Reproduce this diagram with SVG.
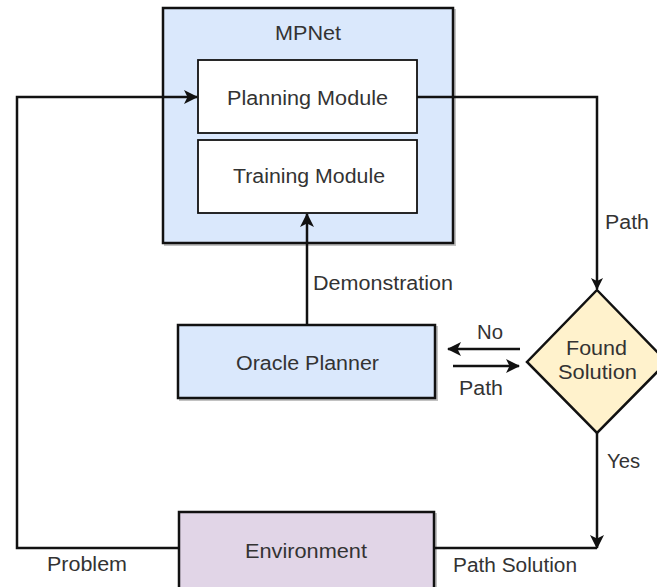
<svg xmlns="http://www.w3.org/2000/svg" width="657" height="587" viewBox="0 0 657 587">
  <style>
    .box { stroke: #111; stroke-width: 2.5; }
    .blue { fill: #dae8fc; }
    .white { fill: #ffffff; stroke-width: 1.8; }
    .cond { fill: #fff2cc; }
    .env { fill: #e1d5e7; }
    .wire { fill: none; stroke: #111; stroke-width: 2.5; }
    .shadow { fill: none; stroke: #999; stroke-width: 2; opacity: 0.6; }
    text { font-family: "Liberation Sans", Arial, sans-serif; font-size: 20px; fill: #333; }
  </style>
  <defs>
    <marker id="arrow" viewBox="0 0 12 12" refX="11" refY="6" markerWidth="12" markerHeight="12" markerUnits="userSpaceOnUse" orient="auto">
      <path d="M0,0 L12,6 L0,12 L3,6 Z" fill="#111"/>
    </marker>
    <marker id="arrowL" viewBox="0 0 14 14" refX="13" refY="7" markerWidth="14" markerHeight="14" markerUnits="userSpaceOnUse" orient="auto">
      <path d="M0,0 L14,7 L0,14 L3.5,7 Z" fill="#111"/>
    </marker>
  </defs>

  <g id="mpnet">
    <rect class="shadow" x="165" y="10" width="290" height="235"/>
    <rect class="box blue" x="163" y="8" width="290" height="235"/>
    <text x="275" y="40" textLength="66" lengthAdjust="spacingAndGlyphs">MPNet</text>
  </g>
  <g id="planning-module">
    <rect class="box white" x="198" y="60" width="219" height="73"/>
    <text x="227" y="105" textLength="161" lengthAdjust="spacingAndGlyphs">Planning Module</text>
  </g>
  <g id="training-module">
    <rect class="box white" x="198" y="140" width="219" height="73"/>
    <text x="233" y="183" textLength="152" lengthAdjust="spacingAndGlyphs">Training Module</text>
  </g>
  <g id="oracle-planner">
    <rect class="shadow" x="180" y="327" width="257" height="73"/>
    <rect class="box blue" x="178" y="325" width="257" height="73"/>
    <text x="236" y="370" textLength="143" lengthAdjust="spacingAndGlyphs">Oracle Planner</text>
  </g>
  <g id="found-solution">
    <polygon class="box cond" points="597,290 667,362 597,433 527,362"/>
    <text x="566" y="355" textLength="61" lengthAdjust="spacingAndGlyphs">Found</text>
    <text x="558" y="379" textLength="79" lengthAdjust="spacingAndGlyphs">Solution</text>
  </g>
  <g id="environment">
    <rect class="shadow" x="181" y="514" width="255" height="80"/>
    <rect class="box env" x="179" y="512" width="255" height="80"/>
    <text x="245" y="558" textLength="122" lengthAdjust="spacingAndGlyphs">Environment</text>
  </g>

  <g id="connectors">
    <path class="wire" d="M179,548 H17 V97 H197" marker-end="url(#arrowL)"/>
    <path class="wire" d="M417,97 H597 V289" marker-end="url(#arrow)"/>
    <path class="wire" d="M307,325 V214" marker-end="url(#arrowL)"/>
    <path class="wire" d="M520,349 H448" marker-end="url(#arrowL)"/>
    <path class="wire" d="M453,366 H519" marker-end="url(#arrowL)"/>
    <path class="wire" d="M597,433 V548" marker-end="url(#arrowL)"/>
    <path class="wire" d="M434,548 H597"/>
    <text x="605" y="229" textLength="44" lengthAdjust="spacingAndGlyphs">Path</text>
    <text x="313" y="290" textLength="140" lengthAdjust="spacingAndGlyphs">Demonstration</text>
    <text x="477" y="339" textLength="26" lengthAdjust="spacingAndGlyphs">No</text>
    <text x="459" y="395" textLength="44" lengthAdjust="spacingAndGlyphs">Path</text>
    <text x="607" y="468" textLength="33" lengthAdjust="spacingAndGlyphs">Yes</text>
    <text x="47" y="571" textLength="80" lengthAdjust="spacingAndGlyphs">Problem</text>
    <text x="453" y="572" textLength="124" lengthAdjust="spacingAndGlyphs">Path Solution</text>
  </g>
</svg>
